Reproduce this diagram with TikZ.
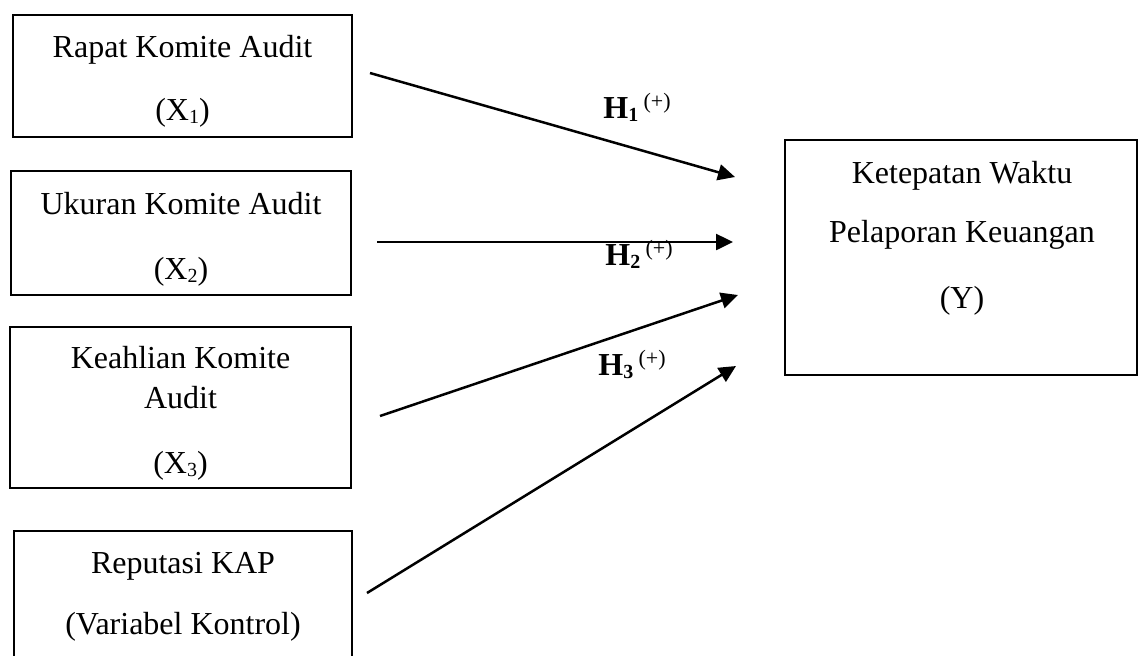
\documentclass[tikz,border=0pt]{standalone}
\usepackage{fontspec}
\setmainfont{Liberation Serif}
\usetikzlibrary{arrows.meta}

\newcommand{\lowidx}[1]{\raisebox{-1.5pt}{\fontsize{10}{12}\selectfont #1}}
\newcommand{\signup}[1]{\raisebox{5pt}{\fontsize{11}{13}\selectfont #1}}
\newcommand{\topgap}[1]{\rule{0pt}{#1}}

\tikzset{
  varbox/.style={draw, line width=1.3pt, align=center, inner sep=0pt,
    font=\fontsize{16}{19}\selectfont},
  plaintext/.style={align=center, inner sep=0pt, font=\fontsize{16}{19}\selectfont},
  hyp/.style={anchor=base west, inner sep=0pt, font=\fontsize{16}{19}\selectfont},
  link/.style={-{Triangle[length=8.5pt,width=8pt]}, line width=1.25pt}
}

\begin{document}
\begin{tikzpicture}[x=0.5pt, y=-0.5pt]
\useasboundingbox (0,0) rectangle (1139,655);

% independent variables
\node [varbox, minimum width=169.5pt, minimum height=61pt] (x1) at (182.5,76)
  {\topgap{16pt}Rapat Komite Audit\\[12.5pt](X\lowidx{1})};
\node [varbox, minimum width=170pt, minimum height=62pt] (x2) at (181,233)
  {\topgap{17pt}Ukuran Komite Audit\\[13.5pt](X\lowidx{2})};
\node [varbox, minimum width=170.5pt, minimum height=80.5pt] (x3) at (180.5,407.5)
  {\topgap{17pt}Keahlian Komite\\[1pt]Audit\\[13.5pt](X\lowidx{3})};
\node [varbox, minimum width=169pt, minimum height=63.5pt] (x4) at (183,594.5)
  {\topgap{13pt}Reputasi KAP\\[11.5pt](Variabel Kontrol)};

% dependent variable
\node [varbox, minimum width=176pt, minimum height=117.5pt] (y) at (961,257.5) {};
\node [plaintext] (ytext) at (962,238.5)
  {Ketepatan Waktu\\[10.5pt]Pelaporan Keuangan\\[14pt](Y)};

% arrows
\coordinate (s1) at (370,73);  \coordinate (t1) at (735,177);
\coordinate (s2) at (377,242); \coordinate (t2) at (733,242);
\coordinate (s3) at (380,416); \coordinate (t3) at (738,295);
\coordinate (s4) at (367,593); \coordinate (t4) at (736,366);
\draw [link] (s1) -- (t1);
\draw [link] (s2) -- (t2);
\draw [link] (s3) -- (t3);
\draw [link] (s4) -- (t4);

\node [hyp] (h1) at (603,118) {\textbf{H\lowidx{1}}\,\signup{(+)}};
\node [hyp] (h2) at (605,265) {\textbf{H\lowidx{2}}\,\signup{(+)}};
\node [hyp] (h3) at (598,375) {\textbf{H\lowidx{3}}\,\signup{(+)}};

\end{tikzpicture}
\end{document}
